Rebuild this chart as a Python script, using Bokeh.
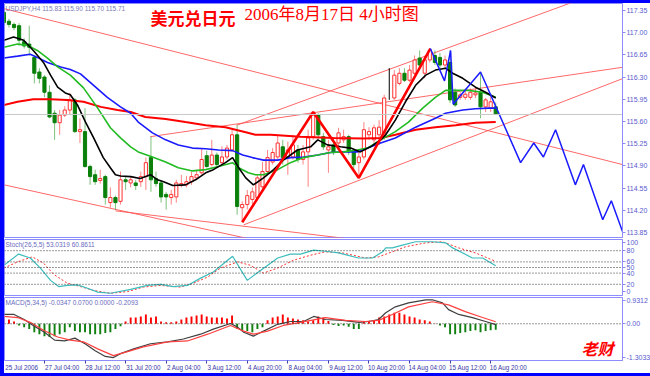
from bokeh.plotting import figure
from bokeh.layouts import column
from bokeh.models import Range1d, FixedTicker, Span, Label, NumeralTickFormatter
from bokeh.embed import file_html
from bokeh.resources import INLINE

# ---------------- data ----------------
time_label_bars = [0, 8, 16, 24, 32, 40, 48, 56, 64, 72, 80, 88, 96]
time_labels = ["25 Jul 2006", "27 Jul 04:00", "28 Jul 12:00", "31 Jul 20:00", "2 Aug 04:00",
               "3 Aug 12:00", "4 Aug 20:00", "8 Aug 04:00", "9 Aug 12:00", "10 Aug 20:00",
               "14 Aug 04:00", "15 Aug 12:00", "16 Aug 20:00"]
price_ticks = [117.35, 117.00, 116.65, 116.30, 115.95, 115.60, 115.25, 114.90, 114.55, 114.20, 113.85]

opens = [117.32, 117.18, 117.13, 117.11, 116.86, 116.82, 116.61, 116.38, 116.30, 116.06,
         115.73, 115.58, 115.70, 115.78, 115.94, 115.44, 115.44, 114.89, 114.76, 114.67,
         114.73, 114.32, 114.40, 114.34, 114.68, 114.63, 114.63, 114.65, 114.73, 115.03,
         114.70, 114.63, 114.45, 114.40, 114.41, 114.59, 114.60, 114.65, 114.71, 114.79,
         115.06, 114.92, 115.07, 114.95, 115.04, 115.15, 115.39, 114.24, 114.29, 114.37,
         114.40, 114.57, 114.81, 114.96, 115.04, 115.20, 115.03, 115.04, 115.15, 115.00,
         115.12, 115.36, 115.70, 115.36, 115.15, 115.23, 115.26, 115.31, 115.36, 115.12,
         114.95, 115.04, 115.39, 115.31, 115.39, 115.39, 115.97, 115.97, 116.20, 116.36,
         116.25, 116.36, 116.60, 116.36, 116.57, 116.64, 116.61, 116.49, 116.53, 116.06,
         115.98, 115.98, 115.98, 116.02, 116.06, 115.83, 115.81, 115.83]
highs = [117.38, 117.22, 117.16, 117.15, 116.91, 117.11, 116.64, 116.44, 116.33, 116.17,
         115.78, 115.78, 115.84, 116.05, 115.97, 115.65, 115.81, 114.92, 114.84, 114.84,
         114.76, 114.56, 114.43, 114.81, 114.73, 114.74, 114.68, 114.81, 115.03, 115.36,
         114.81, 114.68, 114.49, 114.52, 114.68, 114.76, 114.74, 114.81, 114.84, 115.18,
         115.14, 115.31, 115.11, 115.21, 115.23, 115.47, 115.54, 114.34, 114.52, 114.56,
         114.76, 114.96, 115.15, 115.18, 115.39, 115.31, 115.28, 115.39, 115.23, 115.23,
         115.47, 115.75, 115.73, 115.42, 115.31, 115.34, 115.50, 115.47, 115.39, 115.15,
         115.15, 115.59, 115.51, 115.55, 115.62, 116.02, 116.44, 116.41, 116.44, 116.44,
         116.49, 116.64, 116.72, 116.64, 116.75, 116.72, 116.68, 116.64, 116.72, 116.12,
         116.06, 116.12, 116.12, 116.12, 116.38, 115.97, 116.02, 115.90]
lows = [117.11, 117.08, 117.04, 116.80, 116.75, 116.64, 116.20, 116.20, 115.98, 115.65,
        115.31, 115.39, 115.67, 115.70, 115.42, 115.26, 114.87, 114.60, 114.60, 114.62,
        114.29, 114.24, 114.21, 114.29, 114.52, 114.56, 114.52, 114.57, 114.52, 114.49,
        114.57, 114.32, 114.21, 114.29, 114.32, 114.56, 114.56, 114.60, 114.68, 114.76,
        114.87, 114.89, 114.87, 114.90, 115.00, 115.12, 114.13, 114.01, 114.21, 114.29,
        114.37, 114.52, 114.76, 114.92, 115.00, 114.92, 114.76, 115.00, 114.95, 114.92,
        114.57, 115.31, 115.31, 115.15, 114.79, 115.07, 115.20, 115.26, 115.07, 114.84,
        114.71, 115.00, 115.31, 115.23, 115.23, 115.31, 115.94, 115.94, 116.17, 116.22,
        116.22, 116.33, 116.44, 116.28, 116.53, 116.49, 116.44, 116.44, 115.89, 115.83,
        115.94, 115.94, 115.94, 115.97, 115.65, 115.75, 115.75, 115.70]
closes = [117.16, 117.13, 117.08, 116.88, 116.79, 116.77, 116.36, 116.28, 116.06, 115.67,
          115.58, 115.70, 115.78, 115.94, 115.44, 115.47, 114.89, 114.73, 114.65, 114.70,
          114.40, 114.40, 114.32, 114.68, 114.65, 114.68, 114.59, 114.73, 114.95, 114.68,
          114.62, 114.41, 114.41, 114.45, 114.63, 114.62, 114.65, 114.73, 114.76, 115.00,
          114.89, 115.07, 114.92, 115.04, 115.18, 115.39, 114.26, 114.29, 114.43, 114.49,
          114.71, 114.81, 115.03, 115.11, 115.26, 115.03, 115.15, 115.23, 115.00, 115.12,
          115.34, 115.70, 115.39, 115.20, 115.20, 115.12, 115.42, 115.36, 115.12, 114.92,
          115.04, 115.47, 115.44, 115.50, 115.51, 115.97, 115.97, 116.33, 116.36, 116.25,
          116.41, 116.57, 116.49, 116.57, 116.72, 116.53, 116.49, 116.57, 115.94, 115.86,
          116.02, 116.03, 116.06, 116.05, 115.83, 115.94, 115.91, 115.71]

ma_black_x = [0, 1.9, 3.9, 5.8, 7.8, 9.2, 10.6, 12.1, 13.1, 14.5, 16.1, 17.7, 19.6, 21.0, 22.0,
              23.0, 25.0, 26.9, 28.9, 30.3, 31.5, 33.3, 35.8, 37.8, 39.8, 41.3, 43.7, 45.1, 46.3,
              47.7, 49.2, 51.2, 53.2, 55.1, 57.9, 60.5, 61.9, 63.8, 66.4, 68.4, 70.3, 72.3, 74.3,
              75.3, 77.2, 79.2, 81.2, 83.2, 85.1, 87.1, 88.5, 90.5, 93.0, 95.0, 97.0]
ma_black_y = [116.88, 116.93, 116.88, 116.72, 116.53, 116.33, 116.14, 116.05, 116.02, 115.86,
              115.59, 115.34, 115.03, 114.87, 114.76, 114.74, 114.73, 114.70, 114.76, 114.68,
              114.65, 114.59, 114.60, 114.68, 114.79, 114.84, 114.95, 115.03, 114.87, 114.71,
              114.60, 114.71, 114.84, 114.99, 115.15, 115.20, 115.31, 115.23, 115.20, 115.18,
              115.12, 115.20, 115.31, 115.39, 115.62, 115.91, 116.17, 116.33, 116.41, 116.44,
              116.36, 116.28, 116.14, 116.06, 115.97]
ma_green_x = [0, 2.7, 4.7, 6.6, 8.6, 10.6, 13.1, 15.7, 18.5, 21.0, 23.0, 25.0, 26.5, 29.3, 31.9,
              34.4, 37.2, 39.8, 42.3, 45.1, 46.3, 48.2, 49.6, 51.2, 54.0, 56.5, 59.1, 61.9, 64.4,
              67.0, 69.7, 71.7, 74.3, 77.2, 79.8, 82.6, 85.1, 87.1, 89.1, 91.6, 94.4, 97.0]
ma_green_y = [116.77, 116.82, 116.80, 116.72, 116.60, 116.46, 116.33, 116.13, 115.81, 115.50,
              115.34, 115.20, 115.12, 115.04, 114.96, 114.87, 114.82, 114.84, 114.89, 114.95,
              114.87, 114.79, 114.76, 114.76, 114.84, 114.95, 115.03, 115.07, 115.11, 115.12,
              115.15, 115.18, 115.31, 115.44, 115.59, 115.81, 115.98, 116.09, 116.09, 116.09,
              116.06, 115.98]
ma_blue_x = [0, 2.7, 5.2, 6.6, 8.6, 11.2, 13.1, 15.1, 17.7, 20.4, 23.0, 25.0, 26.5, 29.3, 31.9,
             34.4, 37.2, 39.8, 42.3, 45.1, 47.1, 49.0, 51.2, 54.0, 56.5, 59.1, 61.9, 64.4, 67.0,
             69.7, 71.7, 74.3, 77.2, 81.2, 85.1, 87.1, 90.5, 93.0, 95.6, 97.0]
ma_blue_y = [116.60, 116.63, 116.66, 116.61, 116.53, 116.46, 116.42, 116.35, 116.17, 115.98,
             115.83, 115.73, 115.59, 115.42, 115.31, 115.23, 115.18, 115.17, 115.15, 115.14,
             115.07, 115.03, 114.99, 114.99, 115.03, 115.04, 115.07, 115.11, 115.12, 115.12,
             115.18, 115.26, 115.34, 115.51, 115.65, 115.73, 115.78, 115.80, 115.81, 115.81]
ma_red_x = [0, 2.7, 5.8, 9.2, 12.5, 15.7, 19.1, 22.4, 25.0, 27.9, 31.9, 35.8, 39.8, 43.7, 47.7,
            49.6, 52.6, 58.5, 65.0, 70.9, 74.3, 77.2, 81.2, 85.1, 89.1, 93.0, 97.0]
ma_red_y = [115.86, 115.91, 115.95, 115.95, 115.94, 115.91, 115.83, 115.78, 115.75, 115.67,
            115.64, 115.59, 115.54, 115.51, 115.43, 115.39, 115.39, 115.36, 115.34, 115.33,
            115.34, 115.39, 115.47, 115.51, 115.54, 115.58, 115.59]

# thin trend lines: start/end (bar index, price)
trend_x0 = [-0.5, 45.9, 28.9, 47.3, -0.5, 22.0]
trend_y0 = [117.39, 115.54, 115.36, 113.97, 114.61, 114.19]
trend_x1 = [122.5, 112.5, 122.5, 122.5, 50.0, 70.0]
trend_y1 = [114.91, 117.49, 116.46, 116.29, 113.72, 113.73]

zz_red_x = [47, 61, 70, 84.1]
zz_red_y = [114.01, 115.75, 114.71, 116.75]
zz_blue_x = [84.1, 86.9, 88.1, 88.6, 94.0, 101.9, 104.5, 106.4, 108.8, 112.7, 114.3, 118.1, 119.8, 122.2]
zz_blue_y = [116.75, 116.24, 116.72, 115.87, 116.38, 114.95, 115.26, 115.04, 115.47, 114.60,
             114.92, 114.05, 114.35, 113.82]

stoch_k_x = [0, 2.9, 5.2, 7.2, 9.2, 10.8, 12.5, 14.5, 16.5, 18.5, 21.0, 25.0, 28.3, 30.9, 33.4,
             36.2, 38.8, 41.3, 45.1, 48.0, 50.2, 54.0, 56.5, 58.5, 61.1, 63.4, 66.0, 69.9, 72.7,
             74.7, 75.3, 76.6, 78.6, 81.2, 84.5, 87.1, 88.5, 90.5, 92.4, 94.4, 97.0]
stoch_k_y = [54, 74, 67, 49, 27, 16, 18, 19, 13, 6, 4, 11, 18, 20, 16, 18, 31, 42, 70, 27, 42, 67,
             74, 74, 81, 79, 76, 67, 67, 78, 85, 85, 90, 96, 96, 94, 85, 76, 67, 67, 53]
stoch_d_x = [0, 2.7, 5.6, 7.8, 9.8, 12.5, 15.1, 17.7, 21.0, 24.4, 27.5, 30.9, 34.8, 37.4, 40.2,
             42.7, 46.1, 48.6, 51.2, 54.0, 57.1, 60.5, 63.4, 66.8, 71.3, 73.9, 76.6, 79.2, 83.2,
             86.5, 89.7, 93.0, 97.0]
stoch_d_y = [49, 60, 69, 58, 38, 22, 16, 9, 4, 7, 15, 18, 15, 22, 33, 49, 60, 54, 40, 49, 63, 72,
             78, 76, 67, 69, 78, 87, 94, 96, 85, 76, 61]
stoch_levels = [20, 40, 50, 60, 80]

macd_hist = [0.22, 0.15, 0.08, -0.06, -0.12, -0.19, -0.30, -0.37, -0.44, -0.47,
             -0.44, -0.37, -0.30, -0.12, -0.26, -0.30, -0.30, -0.37, -0.37, -0.37,
             -0.33, -0.30, -0.19, -0.09, 0.08, 0.22, 0.22, 0.26, 0.33, 0.22,
             0.26, 0.08, 0.05, 0.05, 0.08, 0.15, 0.22, 0.26, 0.29, 0.33,
             0.26, 0.22, 0.22, 0.22, 0.19, 0.29, -0.19, -0.26, -0.26, -0.30,
             -0.19, -0.12, 0.12, 0.22, 0.26, 0.33, 0.22, 0.19, 0.15, 0.12,
             0.08, 0.12, 0.26, 0.22, 0.10, -0.04, -0.08, -0.06, -0.11, -0.19,
             -0.19, 0.08, 0.08, 0.12, 0.22, 0.26, 0.33, 0.39, 0.39, 0.33,
             0.26, 0.22, 0.15, 0.12, 0.08, 0.01, -0.06, -0.12, -0.37, -0.37,
             -0.33, -0.30, -0.26, -0.23, -0.30, -0.26, -0.23, -0.21]
macd_x = [0, 2, 4, 6, 8, 10, 12, 14, 16, 18, 20, 21.6, 23, 25.6, 28.9, 32.3, 35.4, 38.8, 41.3,
          44.7, 46.1, 47.3, 49.2, 51.2, 54.0, 56.5, 59.1, 61.1, 63.4, 66.8, 70.0, 71.9, 73.9,
          75.3, 77.2, 79.8, 83.2, 84.5, 86.5, 87.7, 89.7, 92.4, 95.0, 97.0]
macd_y = [0.33, 0.33, 0.15, -0.09, -0.30, -0.58, -0.61, -0.51, -0.71, -0.96, -1.16, -1.20,
          -1.06, -0.89, -0.71, -0.64, -0.54, -0.37, -0.19, 0.01, -0.12, -0.30, -0.44, -0.26,
          -0.02, 0.08, 0.08, 0.26, 0.15, 0.12, 0.05, 0.08, 0.15, 0.39, 0.60, 0.74, 0.85, 0.85,
          0.74, 0.50, 0.33, 0.22, 0.08, -0.03]
macd_sig_x = [0, 2.7, 5.2, 7.8, 10.6, 13.1, 15.7, 18.5, 21.6, 24.4, 27.5, 32.3, 36.2, 40.2, 44.7,
              47.3, 49.2, 52.0, 55.1, 58.5, 63.4, 67.4, 71.3, 73.9, 76.6, 79.8, 84.5, 87.7, 91.0,
              94.4, 97.0]
macd_sig_y = [0.26, 0.22, 0.05, -0.23, -0.47, -0.58, -0.64, -0.89, -1.13, -0.99, -0.82, -0.64,
              -0.61, -0.37, -0.06, -0.26, -0.37, -0.26, -0.06, 0.05, 0.22, 0.12, 0.08, 0.12,
              0.33, 0.60, 0.78, 0.67, 0.43, 0.22, 0.07]
macd_range = (-1.3033, 0.9312)

# ---------------- styling helpers ----------------
FONT = "Liberation Sans"
AX_LINE = "#8c8cff"
AX_TEXT = "#5a5ad0"
X0, X1 = 0.12, 122.0


def make_fig(fh, yr, top=0, bottom=0, xaxis=False):
    f = figure(frame_width=618, frame_height=fh, x_range=Range1d(X0, X1), y_range=yr,
               x_axis_location="below" if xaxis else None, y_axis_location="right",
               toolbar_location=None, output_backend="svg",
               min_border_left=0, min_border_right=26, min_border_top=top, min_border_bottom=bottom,
               outline_line_color=AX_LINE, outline_line_width=1,
               background_fill_color="white", border_fill_color="white")
    f.grid.visible = False
    for ax in f.yaxis:
        ax.axis_line_color = AX_LINE
        ax.major_tick_line_color = AX_LINE
        ax.major_tick_out = 3
        ax.major_tick_in = 0
        ax.minor_tick_line_color = None
        ax.major_label_text_font = FONT
        ax.major_label_text_font_size = "7px"
        ax.major_label_text_color = AX_TEXT
        ax.major_label_standoff = 1
    return f


def pick(arr, ii):
    return [arr[i] for i in ii]


# ---------------- main price panel ----------------
p1 = make_fig(234, Range1d(113.77, 117.46), top=0, bottom=1)
p1.yaxis[0].ticker = FixedTicker(ticks=price_ticks)
p1.yaxis[0].formatter = NumeralTickFormatter(format="0.00")

p1.add_layout(Span(location=closes[-1], dimension="width", line_color="#c8c8c8", line_width=1))

p1.segment(x0=trend_x0, y0=trend_y0, x1=trend_x1, y1=trend_y1, line_color="#ff4d4d",
           line_alpha=0.85, line_width=1)

idx = list(range(len(opens)))
up_i = [i for i in idx if closes[i] > opens[i]]
dn_i = [i for i in idx if closes[i] < opens[i]]
dj_i = [i for i in idx if closes[i] == opens[i]]

p1.segment(x0=up_i, y0=pick(highs, up_i), x1=up_i, y1=pick(lows, up_i), line_color="#ff3030",
           line_alpha=0.6, line_width=1)
p1.segment(x0=dn_i, y0=pick(highs, dn_i), x1=dn_i, y1=pick(lows, dn_i), line_color="#109010",
           line_alpha=0.55, line_width=1)
p1.segment(x0=dj_i, y0=pick(highs, dj_i), x1=dj_i, y1=pick(lows, dj_i), line_color="black",
           line_width=1)
p1.vbar(x=up_i, width=0.62, top=pick(closes, up_i), bottom=pick(opens, up_i),
        fill_color="white", line_color="#ff3030", line_width=1)
p1.vbar(x=dn_i, width=0.62, top=pick(opens, dn_i), bottom=pick(closes, dn_i),
        fill_color="#0a800a", line_color="#0a800a", line_width=1)

p1.line(ma_red_x, ma_red_y, line_color="#ff0000", line_width=2)
p1.line(ma_blue_x, ma_blue_y, line_color="#1a1aff", line_width=1.6)
p1.line(ma_green_x, ma_green_y, line_color="#22bb22", line_width=1.6)
p1.line(ma_black_x, ma_black_y, line_color="#000000", line_width=1.6)

p1.line(zz_red_x, zz_red_y, line_color="#ff0000", line_width=2.6)
p1.line(zz_blue_x, zz_blue_y, line_color="#1a1aff", line_width=1.5)

p1.add_layout(Label(x=1, y=233, x_units="screen", y_units="screen",
                    text="USDJPY,H4 115.83 115.90 115.70 115.71", text_baseline="top",
                    text_font=FONT, text_font_size="6.5px", text_color="#7a7ab8"))
p1.add_layout(Label(x=146, y=233, x_units="screen", y_units="screen", text="美元兑日元",
                    text_baseline="top", text_font="Noto Sans CJK SC",
                    text_font_style="bold", text_font_size="17px", text_color="#ff0000"))
p1.add_layout(Label(x=240, y=233, x_units="screen", y_units="screen",
                    text="2006年8月17日 4小时图", text_baseline="top",
                    text_font="'Liberation Serif', 'Noto Sans CJK SC'",
                    text_font_size="17px", text_color="#ff0000"))
p1.add_layout(Label(x=X1, y=closes[-1], text="115.71", text_baseline="middle", text_align="left",
                    x_offset=1, text_font=FONT, text_font_size="7px", text_color="white",
                    background_fill_color="#0000a0"))

# ---------------- stochastic panel ----------------
p2 = make_fig(56, Range1d(0, 100), top=1, bottom=1)
p2.yaxis[0].ticker = FixedTicker(ticks=[7.5, 20, 40, 50, 60, 80, 95.5])
p2.yaxis[0].major_label_overrides = {7.5: "0", 95.5: "100"}
for lv in stoch_levels:
    p2.add_layout(Span(location=lv, dimension="width", line_color="#333333", line_width=1,
                       line_dash="1 2"))
p2.line(stoch_d_x, stoch_d_y, line_color="#ff3030", line_width=1, line_dash="2 2")
p2.line(stoch_k_x, stoch_k_y, line_color="#3cbcbc", line_width=1.2)
p2.add_layout(Label(x=1, y=55, x_units="screen", y_units="screen",
                    text="Stoch(26,5,5) 53.0319 60.8611", text_baseline="top",
                    text_font=FONT, text_font_size="6.5px", text_color="#6a6ac0"))

# ---------------- MACD panel ----------------
p3 = make_fig(63, Range1d(*macd_range), top=1, bottom=0, xaxis=True)
p3.yaxis[0].ticker = FixedTicker(ticks=[-1.1875, 0, 0.8125])
p3.yaxis[0].major_label_overrides = {-1.1875: "-1.3033", 0: "0.00", 0.8125: "0.9312"}
p3.add_layout(Span(location=0, dimension="width", line_color="#333333", line_width=1,
                   line_dash="1 2"))
hx = list(range(len(macd_hist)))
pos_i = [i for i in hx if macd_hist[i] > 0]
neg_i = [i for i in hx if macd_hist[i] <= 0]
p3.vbar(x=pos_i, width=0.38, top=pick(macd_hist, pos_i), bottom=0, fill_color="#ff0000",
        line_color=None)
p3.vbar(x=neg_i, width=0.38, top=0, bottom=pick(macd_hist, neg_i), fill_color="#108010",
        line_color=None)
p3.line(macd_x, macd_y, line_color="#404040", line_width=1.2)
p3.line(macd_sig_x, macd_sig_y, line_color="#ff4040", line_width=1.2)
p3.add_layout(Label(x=1, y=62, x_units="screen", y_units="screen",
                    text="MACD(5,34,5) -0.0347 0.0700 0.0000 -0.2093", text_baseline="top",
                    text_font=FONT, text_font_size="6.5px", text_color="#6a6ac0"))
p3.add_layout(Label(x=577, y=1, x_units="screen", y_units="screen", text="老财",
                    text_baseline="bottom", text_font="Noto Sans CJK SC",
                    text_font_style="bold italic", text_font_size="16px", text_color="#ff0000"))

xa = p3.xaxis[0]
label_pos = [b + 3.5 for b in time_label_bars]
xa.ticker = FixedTicker(ticks=label_pos, minor_ticks=time_label_bars)
xa.major_label_overrides = {pos: lab for pos, lab in zip(label_pos, time_labels)}
xa.axis_line_color = AX_LINE
xa.major_tick_line_color = None
xa.major_tick_out = 0
xa.major_tick_in = 0
xa.minor_tick_line_color = "#4040a0"
xa.minor_tick_out = 3
xa.minor_tick_in = 0
xa.major_label_standoff = 0
xa.major_label_text_font = FONT
xa.major_label_text_font_size = "6.3px"
xa.major_label_text_color = "#3838a8"

layout = column(p1, p2, p3, spacing=0,
                styles={"border-style": "solid", "border-color": "#0000ff",
                        "border-width": "3px 3px 4px 4px", "background-color": "white"})

open("out.html", "w").write(file_html(layout, INLINE))
